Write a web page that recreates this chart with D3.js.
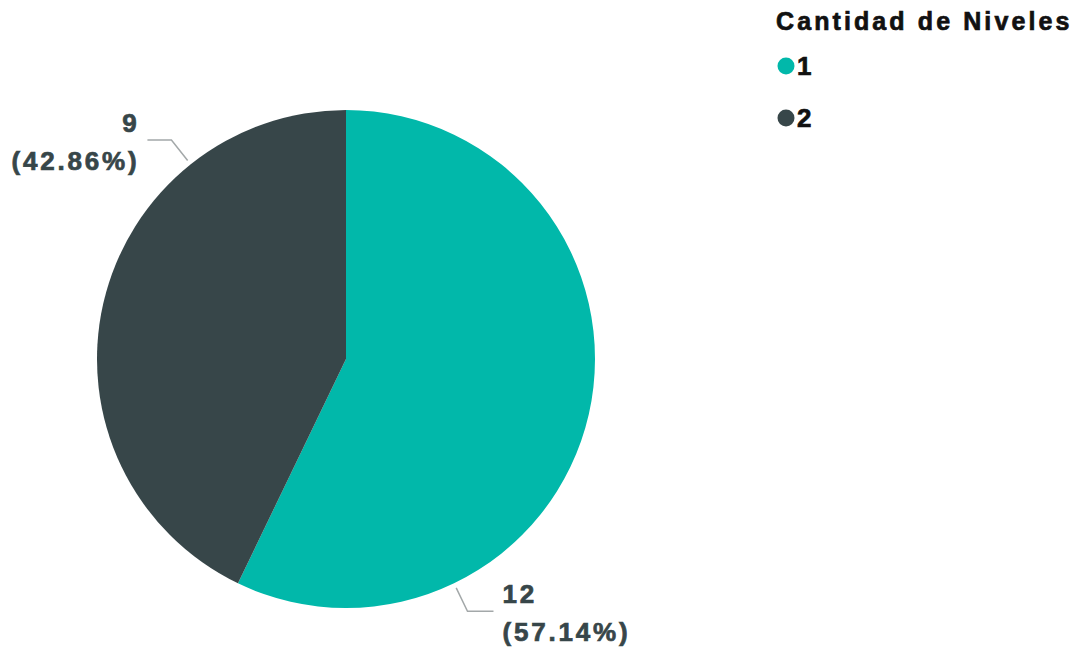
<!DOCTYPE html>
<html>
<head>
<meta charset="utf-8">
<script src="https://cdn.jsdelivr.net/npm/d3@7"></script>
<style>
  body { margin: 0; background: #fff; }
  text { font-family: "Liberation Sans", Arial, sans-serif; font-weight: bold; stroke-width: 0.7px; }
</style>
</head>
<body>
<script>
// data
var categories = ["1", "2"];
var values = [12, 9];
var colors = ["#01B8AA", "#374649"];
var legendTitle = "Cantidad de Niveles";

var width = 1081, height = 654;
var cx = 346, cy = 359, radius = 249;

var svg = d3.select("body").append("svg")
  .attr("width", width)
  .attr("height", height);

var total = d3.sum(values);
var pie = d3.pie().sort(null).value(function(d){ return d.value; });
var arc = d3.arc().innerRadius(0).outerRadius(radius);

var data = categories.map(function(c, i){ return {cat: c, value: values[i], color: colors[i]}; });
var arcs = pie(data);

var g = svg.append("g").attr("transform", "translate(" + cx + "," + cy + ")");

g.selectAll("path")
  .data(arcs)
  .enter().append("path")
  .attr("d", arc)
  .attr("fill", function(d){ return d.data.color; });

// leader lines + labels, placed at 3/4 of each slice like the original
function pt(a, r){ return [r * Math.sin(a), -r * Math.cos(a)]; }

arcs.forEach(function(d){
  var a = d.startAngle + 0.75 * (d.endAngle - d.startAngle);
  var p1 = pt(a, radius + 5), p2 = pt(a, radius + 31);
  var right = Math.sin(a) > 0;
  var p3 = [p2[0] + (right ? 26 : -24), p2[1]];
  g.append("polyline")
    .attr("points", [p1, p2, p3].map(function(p){ return p.join(","); }).join(" "))
    .attr("fill", "none")
    .attr("stroke", "#a3a8a9")
    .attr("stroke-width", 1.5);
  var tx = p3[0] + (right ? 9 : -8);
  var t = g.append("text")
    .attr("text-anchor", right ? "start" : "end")
    .attr("fill", "#374649")
    .attr("stroke", "#374649")
    .style("font-size", "26px")
    .style("letter-spacing", "2.8px");
  t.append("tspan").attr("x", tx).attr("y", p3[1] - 8).text(d.data.value);
  t.append("tspan").attr("x", tx).attr("y", p3[1] + 30)
    .text("(" + d3.format(".2f")(d.data.value / total * 100) + "%)");
});

// legend
var legend = svg.append("g").attr("transform", "translate(776,0)");
legend.append("text")
  .attr("x", 0).attr("y", 30)
  .attr("fill", "#111")
  .attr("stroke", "#111")
  .style("font-size", "25px")
  .style("letter-spacing", "3.1px")
  .text(legendTitle);

var item = legend.selectAll("g.item")
  .data(data)
  .enter().append("g")
  .attr("class", "item")
  .attr("transform", function(d, i){ return "translate(0," + (66 + i * 52) + ")"; });

item.append("circle")
  .attr("cx", 10).attr("cy", 0).attr("r", 8.5)
  .attr("fill", function(d){ return d.color; });

item.append("text")
  .attr("x", 21).attr("y", 9)
  .attr("fill", "#111")
  .attr("stroke", "#111")
  .style("font-size", "26px")
  .text(function(d){ return d.cat; });
</script>
</body>
</html>
